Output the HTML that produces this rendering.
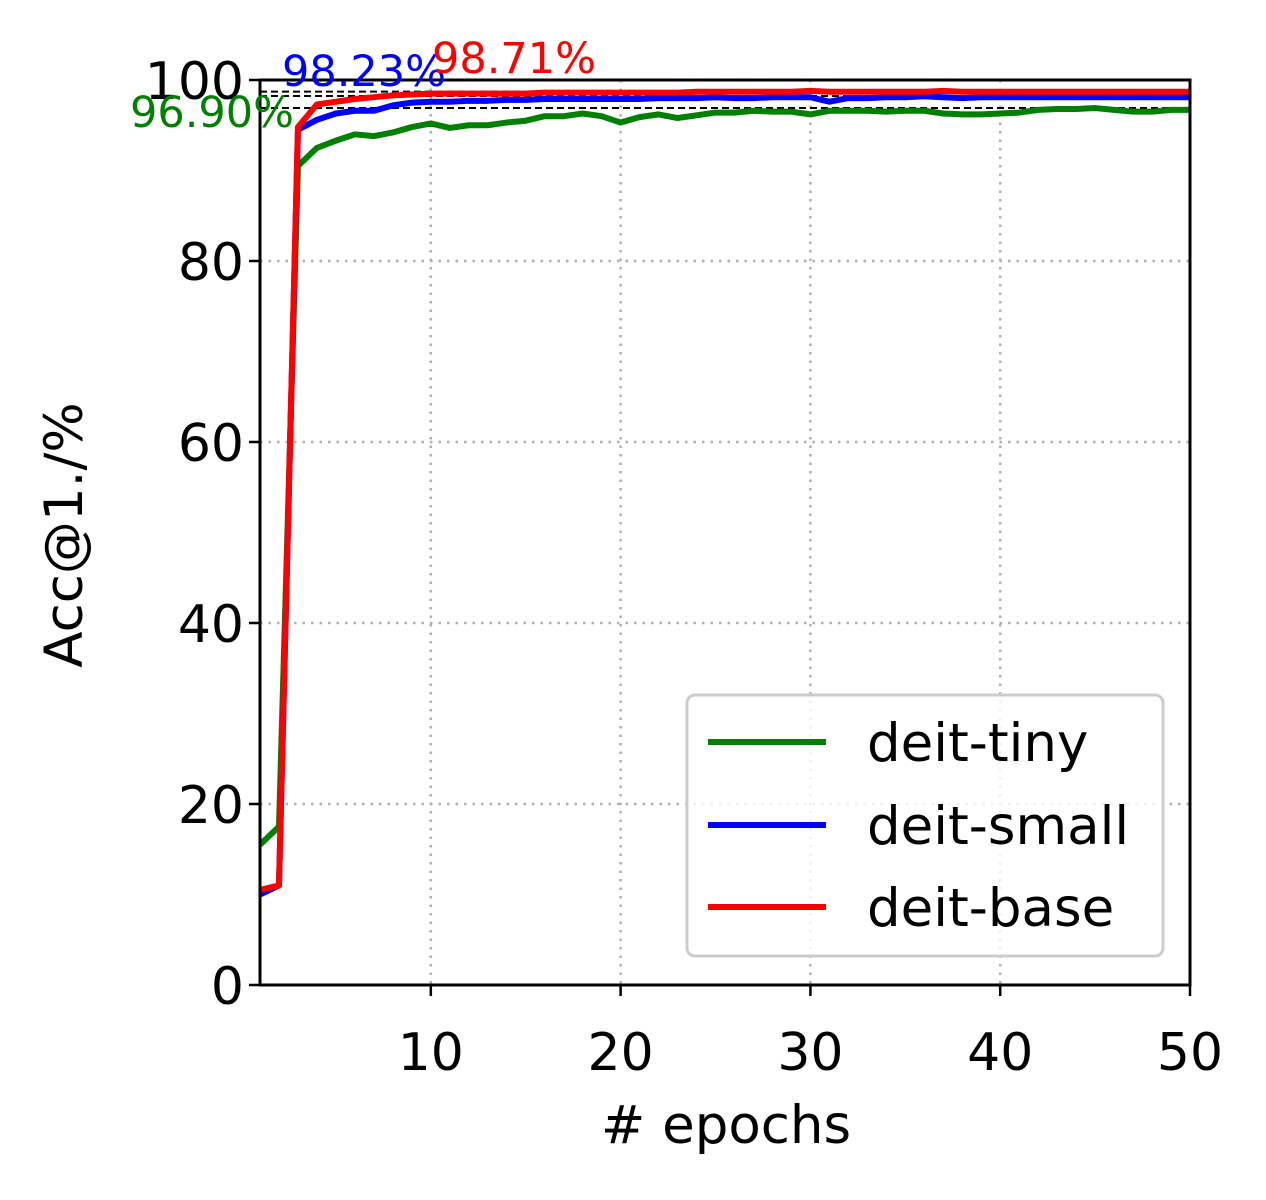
<!DOCTYPE html>
<html><head><meta charset="utf-8"><style>
body{margin:0;background:#fff}
text{font-family:"DejaVu Sans","Liberation Sans",sans-serif}
</style></head><body>
<svg id="chart" width="1266" height="1195" xmlns="http://www.w3.org/2000/svg">
<g id="grid"></g>
<g id="refs"></g>
<g id="series"></g>
<rect x="260" y="80" width="930" height="905" fill="none" stroke="#000" stroke-width="3"/>
<g id="ticks"></g>
<text x="726" y="1143" font-size="53" text-anchor="middle"># epochs</text>
<text x="0" y="0" font-size="53" text-anchor="middle" transform="translate(82,535) rotate(-90)">Acc@1./%</text>
<text x="282" y="86" font-size="43" fill="blue">98.23%</text>
<text x="432" y="73" font-size="43" fill="red">98.71%</text>
<text x="130" y="127" font-size="43" fill="green">96.90%</text>
<g>
<rect x="687" y="695" width="476" height="261" rx="8" fill="#fff" fill-opacity="0.8" stroke="#ccc" stroke-width="3"/>
<line x1="708" y1="742" x2="826" y2="742" stroke="green" stroke-width="6"/>
<text x="867" y="761" font-size="53">deit-tiny</text>
<line x1="708" y1="825" x2="826" y2="825" stroke="blue" stroke-width="6"/>
<text x="867" y="844" font-size="53">deit-small</text>
<line x1="708" y1="907" x2="826" y2="907" stroke="red" stroke-width="6"/>
<text x="867" y="926" font-size="53">deit-base</text>
</g>
</svg>
<script>
const tinyVals=[15.5,17.5,90.5,92.5,93.3,94,93.8,94.2,94.8,95.2,94.7,95,95,95.3,95.5,96,96,96.3,96,95.3,95.9,96.2,95.8,96.1,96.4,96.4,96.6,96.5,96.5,96.2,96.6,96.6,96.6,96.5,96.6,96.6,96.3,96.2,96.2,96.3,96.4,96.7,96.8,96.8,96.9,96.7,96.5,96.5,96.7,96.7];
const smallVals=[10,11,94.5,95.6,96.3,96.6,96.6,97.2,97.5,97.6,97.6,97.7,97.7,97.8,97.8,97.9,97.9,97.9,97.9,97.9,97.9,98.0,98.0,98.0,98.1,98.0,98.0,98.1,98.1,98.1,97.6,98.0,98.0,98.1,98.1,98.2,98.1,98.0,98.1,98.1,98.1,98.1,98.1,98.1,98.1,98.1,98.1,98.1,98.1,98.1];
const baseVals=[10.5,11,94.8,97.3,97.6,97.9,98.1,98.3,98.4,98.5,98.5,98.5,98.5,98.5,98.5,98.6,98.6,98.6,98.6,98.6,98.6,98.6,98.6,98.7,98.7,98.7,98.7,98.7,98.7,98.8,98.7,98.7,98.7,98.7,98.7,98.7,98.8,98.7,98.7,98.7,98.7,98.7,98.7,98.7,98.7,98.7,98.7,98.7,98.7,98.7];
const refVals=[98.71,98.23,96.90];
const xTicks=[10,20,30,40,50];
const yTicks=[0,20,40,60,80,100];
const NS="http://www.w3.org/2000/svg";
const xs=v=>260+(v-1)*(930/49);
const ys=v=>985-v*9.05;
function mk(t,a,p){const e=document.createElementNS(NS,t);for(const k in a)e.setAttribute(k,a[k]);p.appendChild(e);return e;}
const grid=document.getElementById('grid'),ticks=document.getElementById('ticks');
xTicks.forEach(v=>{
 const g=mk('line',{x1:xs(v),x2:xs(v),y1:80,y2:985,stroke:'#b0b0b0','stroke-width':2.5,'stroke-dasharray':'2.5,6'},grid);
 
 
 const t=mk('line',{x1:xs(v),x2:xs(v),y1:985,y2:996,stroke:'#000','stroke-width':2.5},ticks);
 
 
 const l=mk('text',{x:xs(v),y:1070,'font-size':52,'text-anchor':'middle'},ticks);l.textContent=v;
 
 
});
yTicks.forEach(v=>{
 if(v>0&&v<100){const g=mk('line',{x1:260,x2:1190,y1:ys(v),y2:ys(v),stroke:'#b0b0b0','stroke-width':2.5,'stroke-dasharray':'2.5,6'},grid);
 
 }
 const t=mk('line',{x1:249,x2:260,y1:ys(v),y2:ys(v),stroke:'#000','stroke-width':2.5},ticks);
 
 
 const l=mk('text',{x:244,y:ys(v)+19,'font-size':52,'text-anchor':'end'},ticks);l.textContent=v;
 
 
});
const refs=document.getElementById('refs');
refVals.forEach(v=>{
 const r=mk('line',{x1:260,x2:1190,y1:ys(v),y2:ys(v),stroke:'#000','stroke-width':2,'stroke-dasharray':'7,4'},refs);
 
 
});
const ser=document.getElementById('series');
[[tinyVals,'green','line-deit-tiny'],[smallVals,'blue','line-deit-small'],[baseVals,'red','line-deit-base']].forEach(([d,c,n])=>{
 const p=mk('polyline',{points:d.map((v,i)=>xs(i+1)+','+ys(v)).join(' '),fill:'none',stroke:c,'stroke-width':6,'stroke-linejoin':'round'},ser);
 
 
});
</script>
</body></html>
